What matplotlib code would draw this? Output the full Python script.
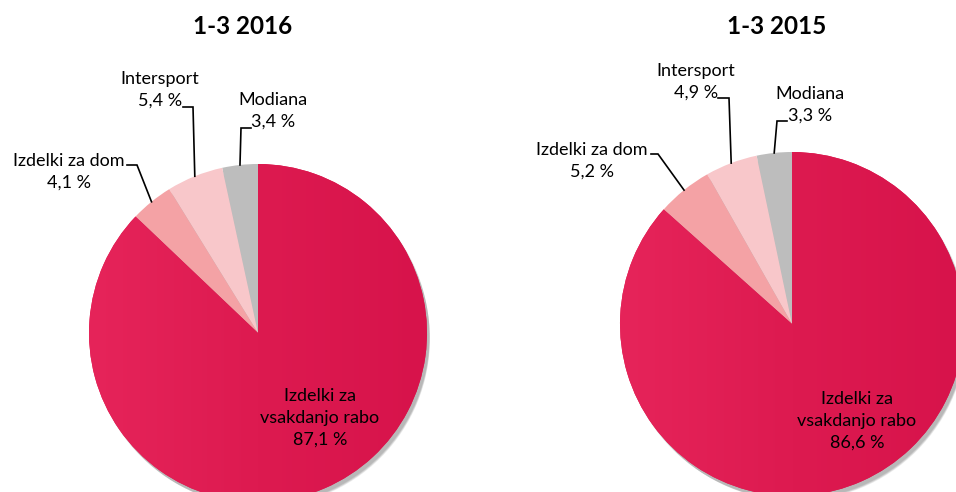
import matplotlib
matplotlib.use('Agg')
import matplotlib.pyplot as plt
import numpy as np
from matplotlib.patches import Circle
from matplotlib.colors import LinearSegmentedColormap

plt.rcParams['font.family'] = ['Lato', 'DejaVu Sans']

# ----------------------------------------------------------------------
# DATA
# ----------------------------------------------------------------------
segmenti = ['Modiana', 'Intersport', 'Izdelki za dom', 'Izdelki za\nvsakdanjo rabo']
delez_2016 = [3.4, 5.4, 4.1, 87.1]
delez_2015 = [3.3, 4.9, 5.2, 86.6]
naslovi = ['1-3 2016', '1-3 2015']
barve = ['#BDBDBD', '#F8C7CA', '#F4A2A5', '#DE1A4E']

W, H = 956, 492

fig = plt.figure(figsize=(W / 100, H / 100), dpi=100)
ax = fig.add_axes([0, 0, 1, 1])


def y(v):
    # pixel row -> data y
    return H - v


def fmt(v):
    return f'{v:.1f}'.replace('.', ',') + ' %'


# layout per pie: center, radius, title pos, label text positions, elbow points
postavitev = [
    dict(c=(258, 333), r=169, title=(243, 27), inner=(320, 418),
         lab=[(273, 111), (160, 90), (69, 172)],
         elbow=[[(251, 128), (241, 128)], [(183, 107), (193, 107)],
                [(127, 165), (137, 165)]]),
    dict(c=(792, 324), r=172, title=(777, 27), inner=(857, 421),
         lab=[(810, 105), (696, 82), (592, 161)],
         elbow=[[(787, 121), (777, 121)], [(718, 98), (729, 98)],
                [(651, 154), (658, 154)]]),
]

for vals, naslov, p in zip([delez_2016, delez_2015], naslovi, postavitev):
    cx, cy = p['c'][0], y(p['c'][1])
    r = p['r']

    # soft shadow under the pie
    for i in range(6):
        ax.add_patch(Circle((cx + 2 + i * 0.4, cy - 3 - i * 0.6), r + 0.5 - i * 0.3,
                            color='black', alpha=0.05, lw=0, zorder=0.5))

    wedges, _ = ax.pie(vals, colors=barve, startangle=90, counterclock=True,
                       center=(cx, cy), radius=r,
                       wedgeprops=dict(linewidth=0))
    for w in wedges:
        w.set_zorder(1)

    # gentle gradient on the big slice
    grad = np.linspace(0, 1, 256).reshape(1, -1)
    cmap = LinearSegmentedColormap.from_list('g', ['#E6245A', '#DD1A50', '#D7134B'])
    im = ax.imshow(grad, extent=[cx - r, cx + r, cy - r, cy + r], cmap=cmap,
                   aspect='auto', zorder=1.1, interpolation='bilinear')
    im.set_clip_path(wedges[3])

    # title
    ax.text(p['title'][0], y(p['title'][1]), naslov, ha='center', va='center',
            fontsize=17.5, fontweight='bold', color='black')

    # label inside big slice
    ax.text(p['inner'][0], y(p['inner'][1]), segmenti[3] + '\n' + fmt(vals[3]),
            ha='center', va='center', fontsize=13, linespacing=1.45, zorder=3)

    # outside labels with leader lines
    for i in range(3):
        w = wedges[i]
        mid = np.deg2rad((w.theta1 + w.theta2) / 2)
        ex, ey = cx + r * np.cos(mid), cy + r * np.sin(mid)
        lx, ly = p['lab'][i]
        ax.text(lx, y(ly), segmenti[i] + '\n' + fmt(vals[i]), ha='center', va='center',
                fontsize=13, linespacing=1.45, zorder=3)
        pts = p['elbow'][i]
        xs = [pts[0][0], pts[1][0], ex]
        ys = [y(pts[0][1]), y(pts[1][1]), ey]
        ax.plot(xs, ys, color='black', lw=1.2, zorder=3, solid_joinstyle='miter')

ax.set_aspect('auto')
ax.set_xlim(0, W)
ax.set_ylim(0, H)
ax.axis('off')

fig.savefig('out.png', dpi=100)
